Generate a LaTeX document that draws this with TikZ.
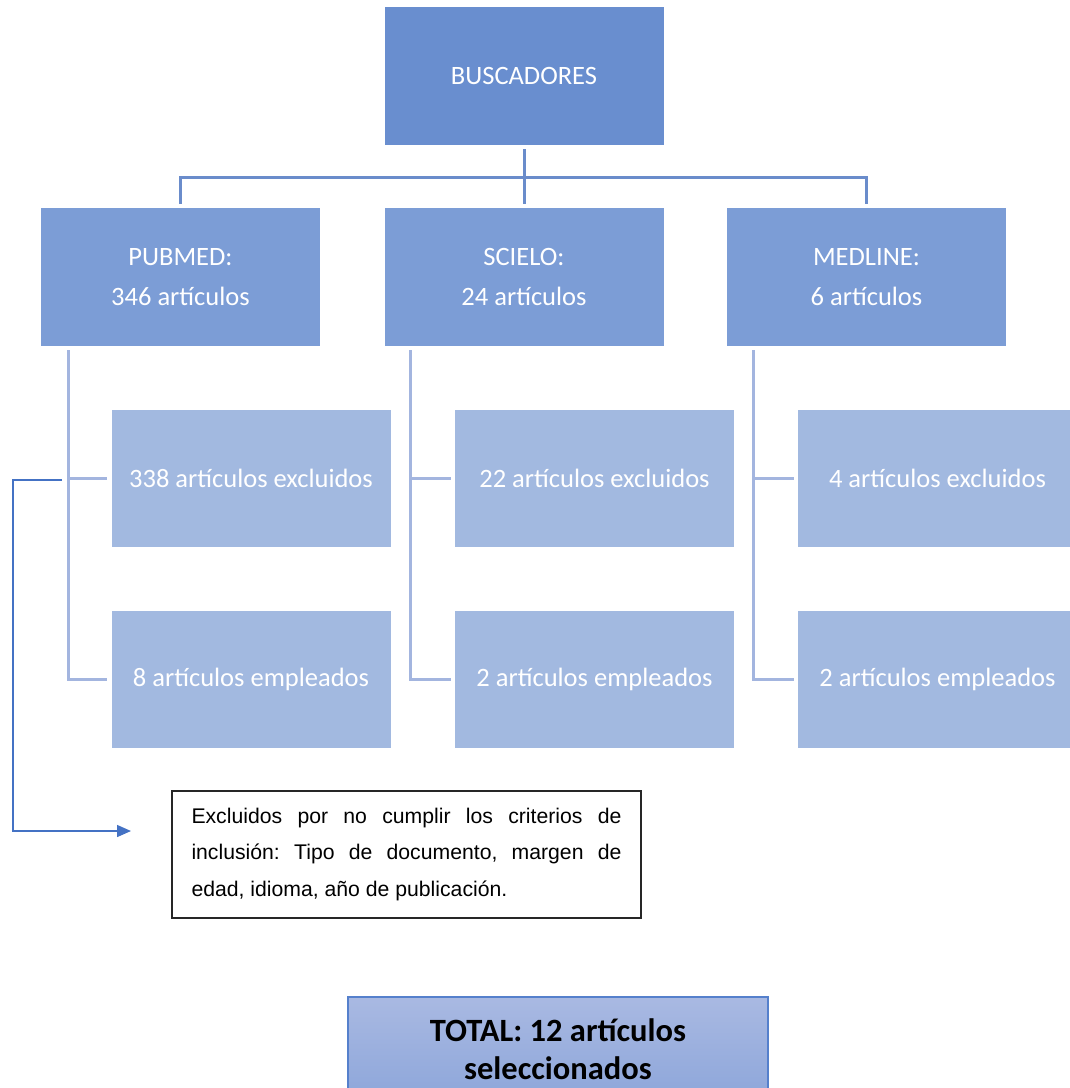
\documentclass[tikz,border=0pt]{standalone}
\usepackage{fontspec}
\setmainfont{Carlito}
\newfontfamily\arialf{Liberation Sans}
\usetikzlibrary{arrows.meta,calc}
\frenchspacing
\definecolor{topblue}{HTML}{698ECF}
\definecolor{midblue}{HTML}{7C9DD6}
\definecolor{lowblue}{HTML}{A2B9E0}
\definecolor{linkblue}{HTML}{6A8CCB}
\definecolor{linkgray}{HTML}{A3B5DF}
\definecolor{arrowblue}{HTML}{4472C4}
\definecolor{totaltop}{HTML}{A9B9E2}
\definecolor{totalbot}{HTML}{8DA6DA}
\definecolor{totalline}{HTML}{5580CC}
\tikzset{
  boxbase/.style={rectangle, inner sep=0pt, minimum width=279pt, text=white, align=center,
    font=\fontsize{26.5}{40}\selectfont},
  topbox/.style={boxbase, fill=topblue, minimum height=138pt},
  midbox/.style={boxbase, fill=midblue, minimum height=138pt},
  lowbox/.style={boxbase, fill=lowblue, minimum height=137pt},
  toplink/.style={draw=linkblue, line width=3pt},
  graylink/.style={draw=linkgray, line width=3pt},
  notelink/.style={draw=arrowblue, line width=1.5pt, -{Triangle[length=14pt,width=12pt]}},
  notebox/.style={draw=black!85, line width=1.2pt, fill=white, rectangle, minimum width=469pt,
    minimum height=127pt, inner xsep=19.5pt, inner ysep=6pt, text width=430pt, align=justify,
    font=\arialf\fontsize{21.2}{36.5}\selectfont},
  totalbox/.style={rectangle, draw=totalline, line width=1.5pt, top color=totaltop, bottom color=totalbot,
    minimum width=420pt, minimum height=104pt, inner sep=0pt, align=center, text=black,
    font=\bfseries\fontsize{32.5}{38}\selectfont}
}
\begin{document}
\begin{tikzpicture}[x=1pt,y=-1pt]
\useasboundingbox (0,0) rectangle (1070,1088);
\clip (0,0) rectangle (1070,1088);
\fill[white] (0,0) rectangle (1070,1088);

% boxes
\node[topbox] (top) at (524,76) {BUSCADORES};
\node[midbox] (pub) at (180.5,277) {PUBMED:\\346 artículos};
\node[midbox] (sci) at (524,277) {SCIELO:\\24 artículos};
\node[midbox] (med) at (866.5,277) {MEDLINE:\\6 artículos};
\node[lowbox] (pubx) at (251,478.5) {338 artículos excluidos};
\node[lowbox] (pube) at (251,679.5) {8 artículos empleados};
\node[lowbox] (scix) at (594.5,478.5) {22 artículos excluidos};
\node[lowbox] (scie) at (594.5,679.5) {2 artículos empleados};
\node[lowbox] (medx) at (937.5,478.5) {4 artículos excluidos};
\node[lowbox] (mede) at (937.5,679.5) {2 artículos empleados};
\node[notebox] (note) at (406.5,854.5) {\frenchspacing\hyphenchar\font=-1 Excluidos por no cumplir los criterios de\linebreak inclusión: Tipo de documento, margen de\linebreak edad, idioma, año de publicación.};
\node[totalbox] (total) at (558,1049) {TOTAL: 12 artículos\\seleccionados};

% top connectors
\coordinate (hj) at (524,177);
\draw[toplink] ([yshift=-4pt]top.south) -- ([yshift=4pt]sci.north);
\draw[toplink] ([yshift=4pt]pub.north) |- (hj) -| ([yshift=4pt]med.north);

% branch connectors
\coordinate (pv) at (68,350);
\coordinate (sv) at (410,350);
\coordinate (mv) at (753,350);
\draw[graylink] (pv) |- ([xshift=-4pt]pube.west);
\draw[graylink] (pv |- pubx.west) -- ([xshift=-4pt]pubx.west);
\draw[graylink] (sv) |- ([xshift=-4pt]scie.west);
\draw[graylink] (sv |- scix.west) -- ([xshift=-4pt]scix.west);
\draw[graylink] (mv) |- ([xshift=-4pt]mede.west);
\draw[graylink] (mv |- medx.west) -- ([xshift=-4pt]medx.west);

% note arrow
\coordinate (ns) at (62,480);
\coordinate (nc) at (13,480);
\coordinate (ne) at (131,831);
\draw[notelink] (ns) -- (nc) |- (ne);
\end{tikzpicture}
\end{document}
